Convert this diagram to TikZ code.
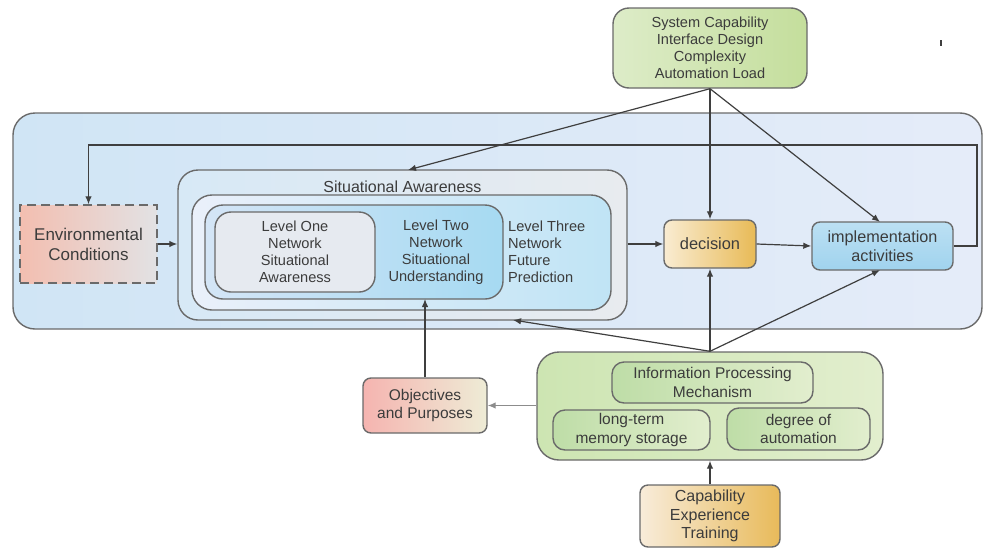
\documentclass[tikz,border=0pt]{standalone}
\usepackage{fontspec}
\setmainfont{Liberation Sans}
\usetikzlibrary{arrows.meta,calc}
\definecolor{bordc}{HTML}{6A6A6A}
\definecolor{arrc}{HTML}{3F3F3F}
\definecolor{txtc}{HTML}{3C3C3C}
\begin{document}
\begin{tikzpicture}[x=1pt,y=-1pt,
  box/.style={draw=bordc,line width=1.4pt,inner sep=0pt,align=center,text=txtc,
    font=\fontsize{15.5}{18.5}\selectfont},
  conn/.style={draw=arrc,line width=1.2pt,-{Latex[length=8pt,width=6.5pt]}},
  lvltext/.style={text=txtc,font=\fontsize{14.6}{17}\selectfont,inner sep=0pt}
]
\useasboundingbox (0,0) rectangle (987,549);
% outer big box
\node[box,rounded corners=22pt,minimum width=969pt,minimum height=216pt,
  left color={rgb,255:red,208;green,229;blue,245},right color={rgb,255:red,229;green,236;blue,249}]
  (big) at (497.5,221) {};
% situational awareness frames
\node[box,rounded corners=20pt,minimum width=449pt,minimum height=150pt,
  left color={rgb,255:red,215;green,233;blue,246},right color={rgb,255:red,232;green,235;blue,239}]
  (saouter) at (402.5,245) {};
\node[text=txtc,font=\fontsize{16}{18}\selectfont,inner sep=0pt] (satitle) at (402.5,187) {Situational Awareness};
\node[box,rounded corners=20pt,minimum width=419pt,minimum height=115pt,
  left color={rgb,255:red,234;green,240;blue,250},right color={rgb,255:red,192;green,228;blue,245}]
  (sa2) at (401.5,252.5) {};
\node[box,rounded corners=18pt,minimum width=298pt,minimum height=94pt,
  left color={rgb,255:red,212;green,229;blue,246},right color={rgb,255:red,166;green,218;blue,242}]
  (sa3) at (354,252) {};
\node[box,rounded corners=16pt,minimum width=160pt,minimum height=80pt,
  fill={rgb,255:red,230;green,234;blue,240},font=\fontsize{14.6}{17}\selectfont]
  (lvl1) at (295,252) {Level One\\Network\\Situational\\Awareness};
\node[lvltext,align=center] (lvl2) at (436,252) {Level Two\\Network\\Situational\\Understanding};
\node[lvltext,align=left,anchor=west] (lvl3) at (508,252) {Level Three\\Network\\Future\\Prediction};
% environmental conditions
\node[box,dashed,dash pattern=on 9pt off 5pt,minimum width=137pt,minimum height=78pt,
  left color={rgb,255:red,243;green,190;blue,176},right color={rgb,255:red,226;green,226;blue,228},
  font=\fontsize{17}{20}\selectfont]
  (env) at (88.5,244) {Environmental\\Conditions};
% top box
\node[box,rounded corners=16pt,minimum width=194pt,minimum height=80pt,
  shading angle=135,left color={rgb,255:red,221;green,236;blue,200},right color={rgb,255:red,196;green,222;blue,156},
  font=\fontsize{14.6}{17}\selectfont]
  (top) at (710,48) {System Capability\\Interface Design\\Complexity\\Automation Load};
% decision and implementation
\node[box,rounded corners=8pt,minimum width=92pt,minimum height=48pt,
  shading angle=135,left color={rgb,255:red,249;green,236;blue,210},right color={rgb,255:red,232;green,186;blue,86},
  font=\fontsize{16.4}{19}\selectfont]
  (dec) at (710,244) {decision};
\node[box,rounded corners=8pt,minimum width=141pt,minimum height=48pt,
  top color={rgb,255:red,188;green,224;blue,243},bottom color={rgb,255:red,160;green,211;blue,238},
  font=\fontsize{16.2}{19}\selectfont]
  (impl) at (882.5,246) {implementation\\activities};
% bottom green box
\node[box,rounded corners=22pt,minimum width=346pt,minimum height=108pt,
  left color={rgb,255:red,205;green,229;blue,178},right color={rgb,255:red,226;green,238;blue,206}]
  (green) at (710,406) {};
\node[box,rounded corners=12pt,minimum width=201pt,minimum height=41pt,
  left color={rgb,255:red,190;green,221;blue,167},right color={rgb,255:red,226;green,238;blue,206}]
  (info) at (712.5,382.5) {Information Processing\\Mechanism};
\node[box,rounded corners=12pt,minimum width=157pt,minimum height=40pt,
  left color={rgb,255:red,190;green,221;blue,167},right color={rgb,255:red,226;green,238;blue,206}]
  (ltm) at (631.5,430) {long-term\\memory storage};
\node[box,rounded corners=12pt,minimum width=143pt,minimum height=42pt,
  left color={rgb,255:red,190;green,221;blue,167},right color={rgb,255:red,226;green,238;blue,206}]
  (doa) at (798.5,429) {degree of\\automation};
% objectives
\node[box,rounded corners=8pt,minimum width=124pt,minimum height=55pt,
  left color={rgb,255:red,245;green,180;blue,176},right color={rgb,255:red,238;green,236;blue,214}]
  (obj) at (425,405.5) {Objectives\\and Purposes};
% capability
\node[box,rounded corners=8pt,minimum width=140pt,minimum height=62pt,
  shading angle=135,left color={rgb,255:red,248;green,236;blue,218},right color={rgb,255:red,232;green,186;blue,90},
  font=\fontsize{16}{18.5}\selectfont]
  (cap) at (710,516) {Capability\\Experience\\Training};
% small mark
\coordinate (markA) at (941,40);
\coordinate (markB) at (941,46);
\draw[arrc,line width=1.2pt] (markA) -- (markB);
% coordinates for free ends
\coordinate (saT) at (408,170);
\coordinate (saB) at (513,320);
\coordinate (implT) at (880,222);
\coordinate (implB) at (880,270);
\coordinate (sa3B) at (425,299);
\coordinate (fbR1) at (977,246);
\coordinate (fbR2) at (977,145);
\coordinate (fbL) at (88.5,145);
% connectors
\draw[conn] (top.south) -- (saT);
\draw[conn] (top.south) -- (dec.north);
\draw[conn] (top.south) -- (implT);
\draw[conn] (env.east) -- (saouter.west |- env.east);
\draw[conn] (saouter.east |- dec.west) -- (dec.west);
\draw[conn] (dec.east) -- (impl.west);
\draw[conn] (impl.east |- fbR1) -- (fbR1) -- (fbR2) -- (fbL) -- (env.north);
\draw[conn] (green.north) -- (dec.south);
\draw[conn] (green.north) -- (implB);
\draw[conn] (green.north) -- (saB);
\draw[conn,draw={rgb,255:red,140;green,140;blue,140}] (green.west |- obj.east) -- (obj.east);
\draw[conn] (obj.north) -- (sa3B);
\draw[conn] (cap.north) -- (green.south);
\end{tikzpicture}
\end{document}
